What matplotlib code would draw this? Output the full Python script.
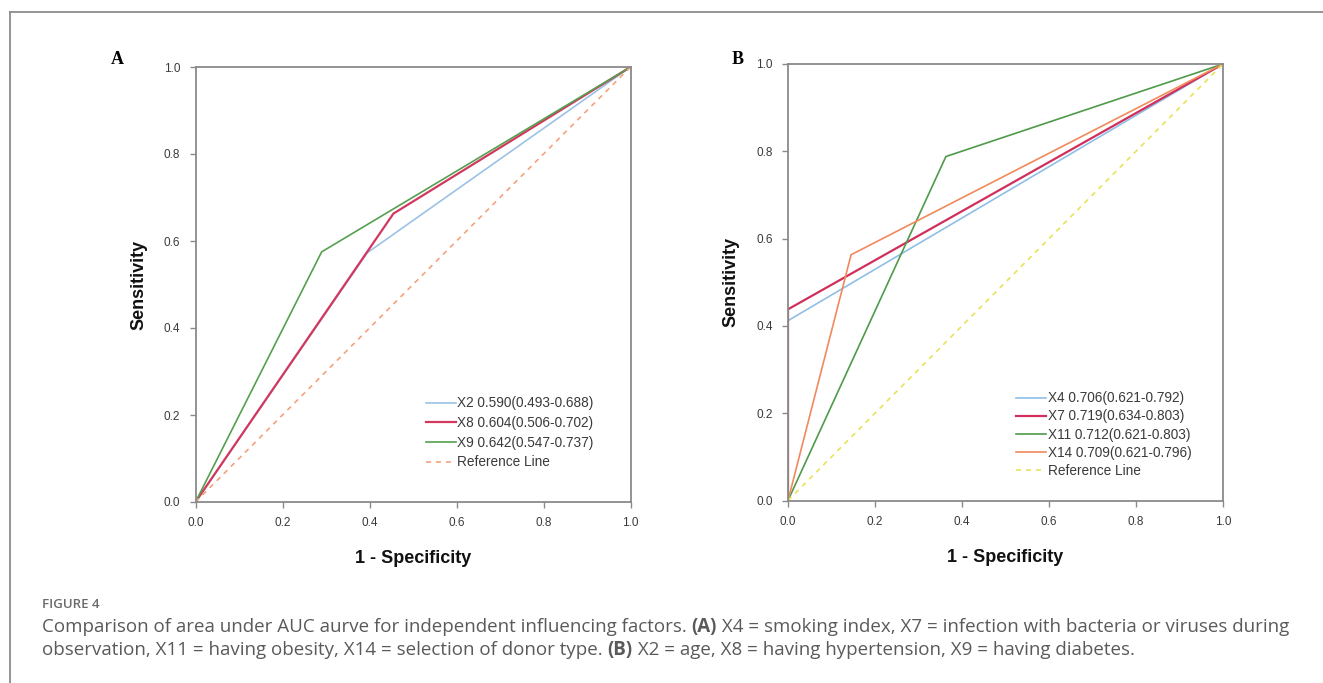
import matplotlib
matplotlib.use('Agg')
import matplotlib.pyplot as plt
from matplotlib.lines import Line2D

# Panel A: ROC points (1 - specificity, sensitivity)
a_names = ['X2 0.590(0.493-0.688)', 'X8 0.604(0.506-0.702)', 'X9 0.642(0.547-0.737)']
a_fpr = [[0.0, 0.395, 1.0], [0.0, 0.455, 1.0], [0.0, 0.29, 1.0]]
a_tpr = [[0.0, 0.573, 1.0], [0.0, 0.663, 1.0], [0.0, 0.575, 1.0]]
a_colors = ['#9cc2e5', '#d2385f', '#55a04f']

# Panel B
b_names = ['X4 0.706(0.621-0.792)', 'X7 0.719(0.634-0.803)',
           'X11 0.712(0.621-0.803)', 'X14 0.709(0.621-0.796)']
b_fpr = [[0.0, 0.0, 1.0], [0.0, 0.0, 1.0], [0.0, 0.363, 1.0], [0.0, 0.145, 1.0]]
b_tpr = [[0.0, 0.412, 1.0], [0.0, 0.438, 1.0], [0.0, 0.788, 1.0], [0.0, 0.563, 1.0]]
b_colors = ['#8fbfe6', '#d02f5c', '#4f9a4a', '#f08a5c']

ticks = [0.0, 0.2, 0.4, 0.6, 0.8, 1.0]
tick_labels = ['0.0', '0.2', '0.4', '0.6', '0.8', '1.0']

W, H = 1323, 683
fig = plt.figure(figsize=(W / 100, H / 100), dpi=100)

FRAME = '#8a8a8a'
TXT = '#3a3a3a'


def px_axes(x0, y0, x1, y1):
    return fig.add_axes([x0 / W, 1 - y1 / H, (x1 - x0) / W, (y1 - y0) / H])


def style_axes(ax):
    ax.set_xlim(0, 1)
    ax.set_ylim(0, 1)
    ax.set_xticks(ticks)
    ax.set_yticks(ticks)
    ax.set_xticklabels(tick_labels)
    ax.set_yticklabels(tick_labels)
    for s in ax.spines.values():
        s.set_color(FRAME)
        s.set_linewidth(1.3)
    ax.tick_params(direction='out', length=4, width=1, color=FRAME,
                   labelsize=8.5, labelcolor=TXT, pad=7)
    for lab in ax.get_xticklabels() + ax.get_yticklabels():
        lab.set_family('Liberation Sans')
    ax.set_xlabel('1 - Specificity', fontsize=13, fontweight='bold',
                  family='Liberation Sans', labelpad=15, color='#111111')
    ax.set_ylabel('Sensitivity', fontsize=13, fontweight='bold',
                  family='Liberation Sans', labelpad=12, color='#111111')


def draw_panel(ax, fprs, tprs, names, colors, ref_color, anchor, spacing):
    handles = []
    for f, t, n, c in zip(fprs, tprs, names, colors):
        lw = 1.6 if c in ('#d2385f', '#d02f5c') else 1.2
        ax.plot(f, t, color=c, lw=lw, solid_joinstyle='miter')
        handles.append(Line2D([], [], color=c, lw=lw))
    ax.plot([0, 1], [0, 1], color=ref_color, lw=1.2, ls=(0, (3, 3)))
    handles.append(Line2D([], [], color=ref_color, lw=1.2, ls=(0, (3, 3))))
    leg = ax.legend(handles, names + ['Reference Line'], loc='upper left',
                    bbox_to_anchor=anchor, frameon=False,
                    prop={'family': 'Liberation Sans', 'size': 9.8},
                    handlelength=2.2, handletextpad=0.1, labelspacing=spacing,
                    borderaxespad=0, borderpad=0)
    for t in leg.get_texts():
        t.set_color(TXT)
    style_axes(ax)


ax_a = px_axes(195.5, 67, 630.5, 502)
draw_panel(ax_a, a_fpr, a_tpr, a_names, a_colors, '#f4a27c', (0.53, 0.243), 0.42)
ax_b = px_axes(788, 64, 1223, 500.5)
draw_panel(ax_b, b_fpr, b_tpr, b_names, b_colors, '#e6e35a', (0.525, 0.25), 0.3)

fig.text(117 / W, 1 - 60 / H, 'A', fontsize=13, fontweight='bold',
         family='Liberation Serif', ha='center', va='center')
fig.text(738 / W, 1 - 60 / H, 'B', fontsize=13, fontweight='bold',
         family='Liberation Serif', ha='center', va='center')

# outer border (left and top only visible)
fig.add_artist(Line2D([10 / W, 10 / W], [0, 1 - 12 / H], color='#8c8c8c',
                      lw=1.3, transform=fig.transFigure))
fig.add_artist(Line2D([10 / W, 1], [1 - 12 / H, 1 - 12 / H], color='#8c8c8c',
                      lw=1.3, transform=fig.transFigure))

# caption
CAP = '#5a5a5a'
fig.text(42 / W, 1 - 604 / H, 'FIGURE 4', fontsize=9.5, family='Open Sans',
         color='#6a6a6a', va='center', fontweight='semibold')

line1 = [('Comparison of area under AUC aurve for independent influencing factors. ', 'normal'),
         ('(A)', 'bold'),
         (' X4 = smoking index, X7 = infection with bacteria or viruses during', 'normal')]
line2 = [('observation, X11 = having obesity, X14 = selection of donor type. ', 'normal'),
         ('(B)', 'bold'),
         (' X2 = age, X8 = having hypertension, X9 = having diabetes.', 'normal')]

renderer = fig.canvas.get_renderer()
for pieces, ypx in [(line1, 627), (line2, 650)]:
    x = 42
    for s, w in pieces:
        t = fig.text(x / W, 1 - ypx / H, s, fontsize=13.5, family='Open Sans',
                     color=CAP, va='center', fontweight=w)
        bb = t.get_window_extent(renderer)
        x += bb.width

fig.savefig('out.png', dpi=100)
